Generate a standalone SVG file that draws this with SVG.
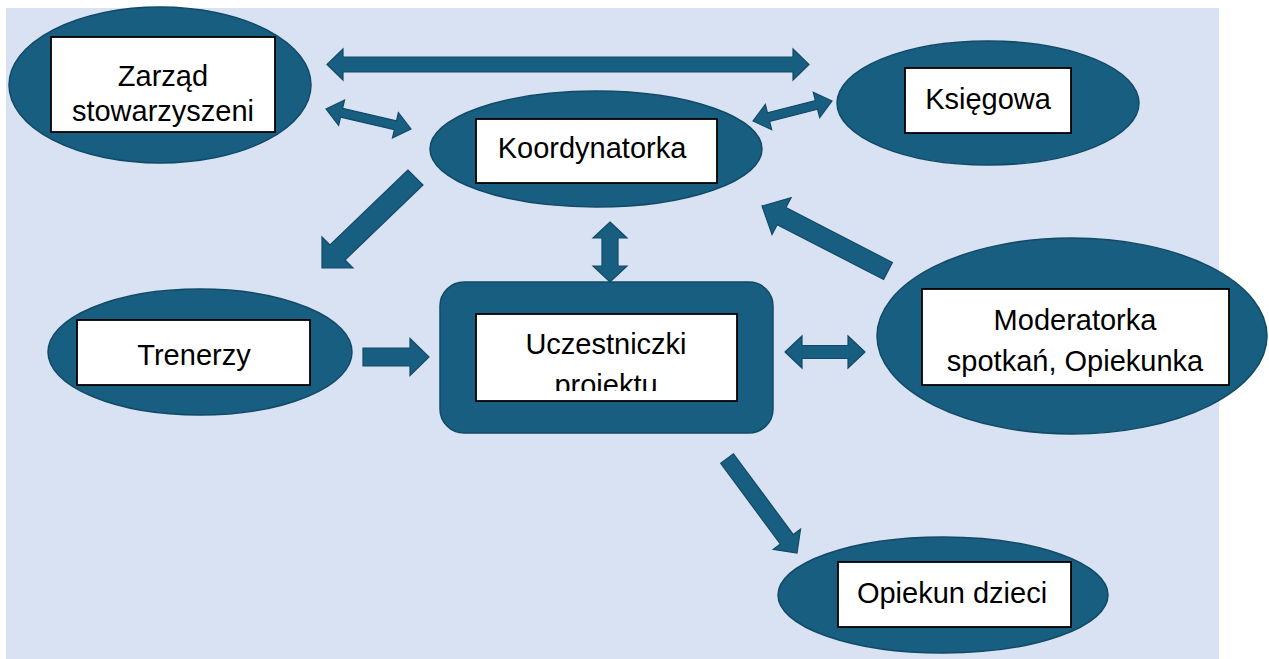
<svg xmlns="http://www.w3.org/2000/svg" width="1269" height="659" viewBox="0 0 1269 659">
  <style>
    .bg { fill: #D9E2F3; }
    .shape { fill: #185E80; stroke: #124A66; stroke-width: 1.5; }
    .box { fill: #FFFFFF; stroke: #000000; stroke-width: 1.8; }
    .arrow { fill: #185E80; stroke: #124A66; stroke-width: 1.2; stroke-linejoin: miter; }
    .label { font-family: "Liberation Sans", Arial, sans-serif; font-size: 29px; fill: #000000; text-anchor: middle; }
  </style>
  <defs>
    <clipPath id="clipUcz">
      <rect x="476" y="314" width="261" height="77"/>
    </clipPath>
  </defs>

  <rect class="bg" x="6" y="8" width="1213" height="651"/>

  <g id="connectors">
    <polygon class="arrow" points="327,64.5 343,49 343,57 793,57 793,49 809,64.5 793,80 793,72 343,72 343,80"/>
    <polygon class="arrow" points="326,109 338.6,125.33 340.55,117.05 394.39,129.71 392.44,137.99 411,129 398.4,112.67 396.45,120.95 342.61,108.29 344.56,100.01"/>
    <polygon class="arrow" points="753,121 771.7,129.67 769.61,121.43 817.59,109.29 819.68,117.53 832,101 813.3,92.33 815.39,100.57 767.41,112.71 765.32,104.47"/>
    <polygon class="arrow" points="408,170 330,245 322,237 322,268 353,268 345,260 423,185"/>
    <polygon class="arrow" points="610,222 627,238 618,238 618,266 627,266 610,282 593,266 602,266 602,238 593,238"/>
    <polygon class="arrow" points="363,348 410,348 410,338.5 429,357 410,375.5 410,366 363,366"/>
    <polygon class="arrow" points="785,352 802,336 802,345.5 848,345.5 848,336 865,352 848,368 848,358.5 802,358.5 802,368"/>
    <polygon class="arrow" points="892.4,262.47 785.95,207.55 791.08,197.6 762,206 772.02,234.56 777.15,224.61 883.6,279.53"/>
    <polygon class="arrow" points="720.57,463.26 780.45,544.1 773.22,549.46 797,553 800.54,529.22 793.31,534.58 733.43,453.74"/>
  </g>

  <g id="node-zarzad">
    <ellipse class="shape" cx="160" cy="85" rx="151" ry="78"/>
    <rect class="box" x="51" y="37" width="224" height="95"/>
    <text class="label" x="163" y="86">Zarząd</text>
    <text class="label" x="163" y="121">stowarzyszeni</text>
  </g>

  <g id="node-ksiegowa">
    <ellipse class="shape" cx="988" cy="103" rx="151" ry="62"/>
    <rect class="box" x="905" y="68" width="166" height="65"/>
    <text class="label" x="988" y="109">Księgowa</text>
  </g>

  <g id="node-koordynatorka">
    <ellipse class="shape" cx="596" cy="149" rx="166" ry="58"/>
    <rect class="box" x="476" y="119" width="241" height="64"/>
    <text class="label" x="592" y="158">Koordynatorka</text>
  </g>

  <g id="node-trenerzy">
    <ellipse class="shape" cx="200" cy="352" rx="152" ry="63"/>
    <rect class="box" x="77" y="320" width="233" height="65"/>
    <text class="label" x="194" y="365">Trenerzy</text>
  </g>

  <g id="node-uczestniczki">
    <rect class="shape" x="440" y="282" width="333" height="151" rx="24" ry="24"/>
    <rect class="box" x="476" y="314" width="261" height="87"/>
    <g clip-path="url(#clipUcz)">
      <text class="label" x="606" y="354">Uczestniczki</text>
      <text class="label" x="606" y="395">projektu</text>
    </g>
  </g>

  <g id="node-moderatorka">
    <ellipse class="shape" cx="1072" cy="336" rx="195" ry="98"/>
    <rect class="box" x="922" y="289" width="307" height="96"/>
    <text class="label" x="1075" y="330">Moderatorka</text>
    <text class="label" x="1075" y="371">spotkań, Opiekunka</text>
  </g>

  <g id="node-opiekun">
    <ellipse class="shape" cx="943" cy="595" rx="165" ry="58"/>
    <rect class="box" x="838" y="562" width="233" height="65"/>
    <text class="label" x="952" y="603">Opiekun dzieci</text>
  </g>
</svg>
